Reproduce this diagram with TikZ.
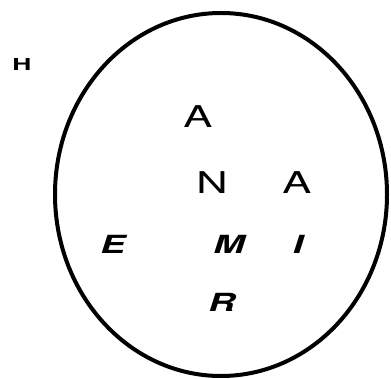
\documentclass[tikz,border=0pt]{standalone}
\usepackage{fontspec}
\setmainfont{TeX Gyre Heros}
\begin{document}
\begin{tikzpicture}[x=1pt,y=-1pt,
  up/.style={inner sep=0pt,font=\fontsize{30}{30}\selectfont,xscale=1.45},
  it/.style={inner sep=0pt,font=\fontsize{25}{25}\selectfont\bfseries\itshape,xscale=1.5},
  lab/.style={inner sep=0pt,font=\fontsize{16.5}{16.5}\selectfont\bfseries,xscale=1.6}]
\useasboundingbox (0,0) rectangle (391,379);
\draw[line width=4pt] (221,194.5) ellipse [x radius=166, y radius=181.5];
\node[lab] (h) at (22,64) {H};
\node[up] (a1) at (198,117) {A};
\node[up] (n) at (212,183) {N};
\node[up] (a2) at (297,183) {A};
\node[it] (e) at (113,244) {E};
\node[it] (m) at (229,244) {M};
\node[it] (i) at (298,244) {I};
\node[it] (r) at (222,302) {R};
\end{tikzpicture}
\end{document}
